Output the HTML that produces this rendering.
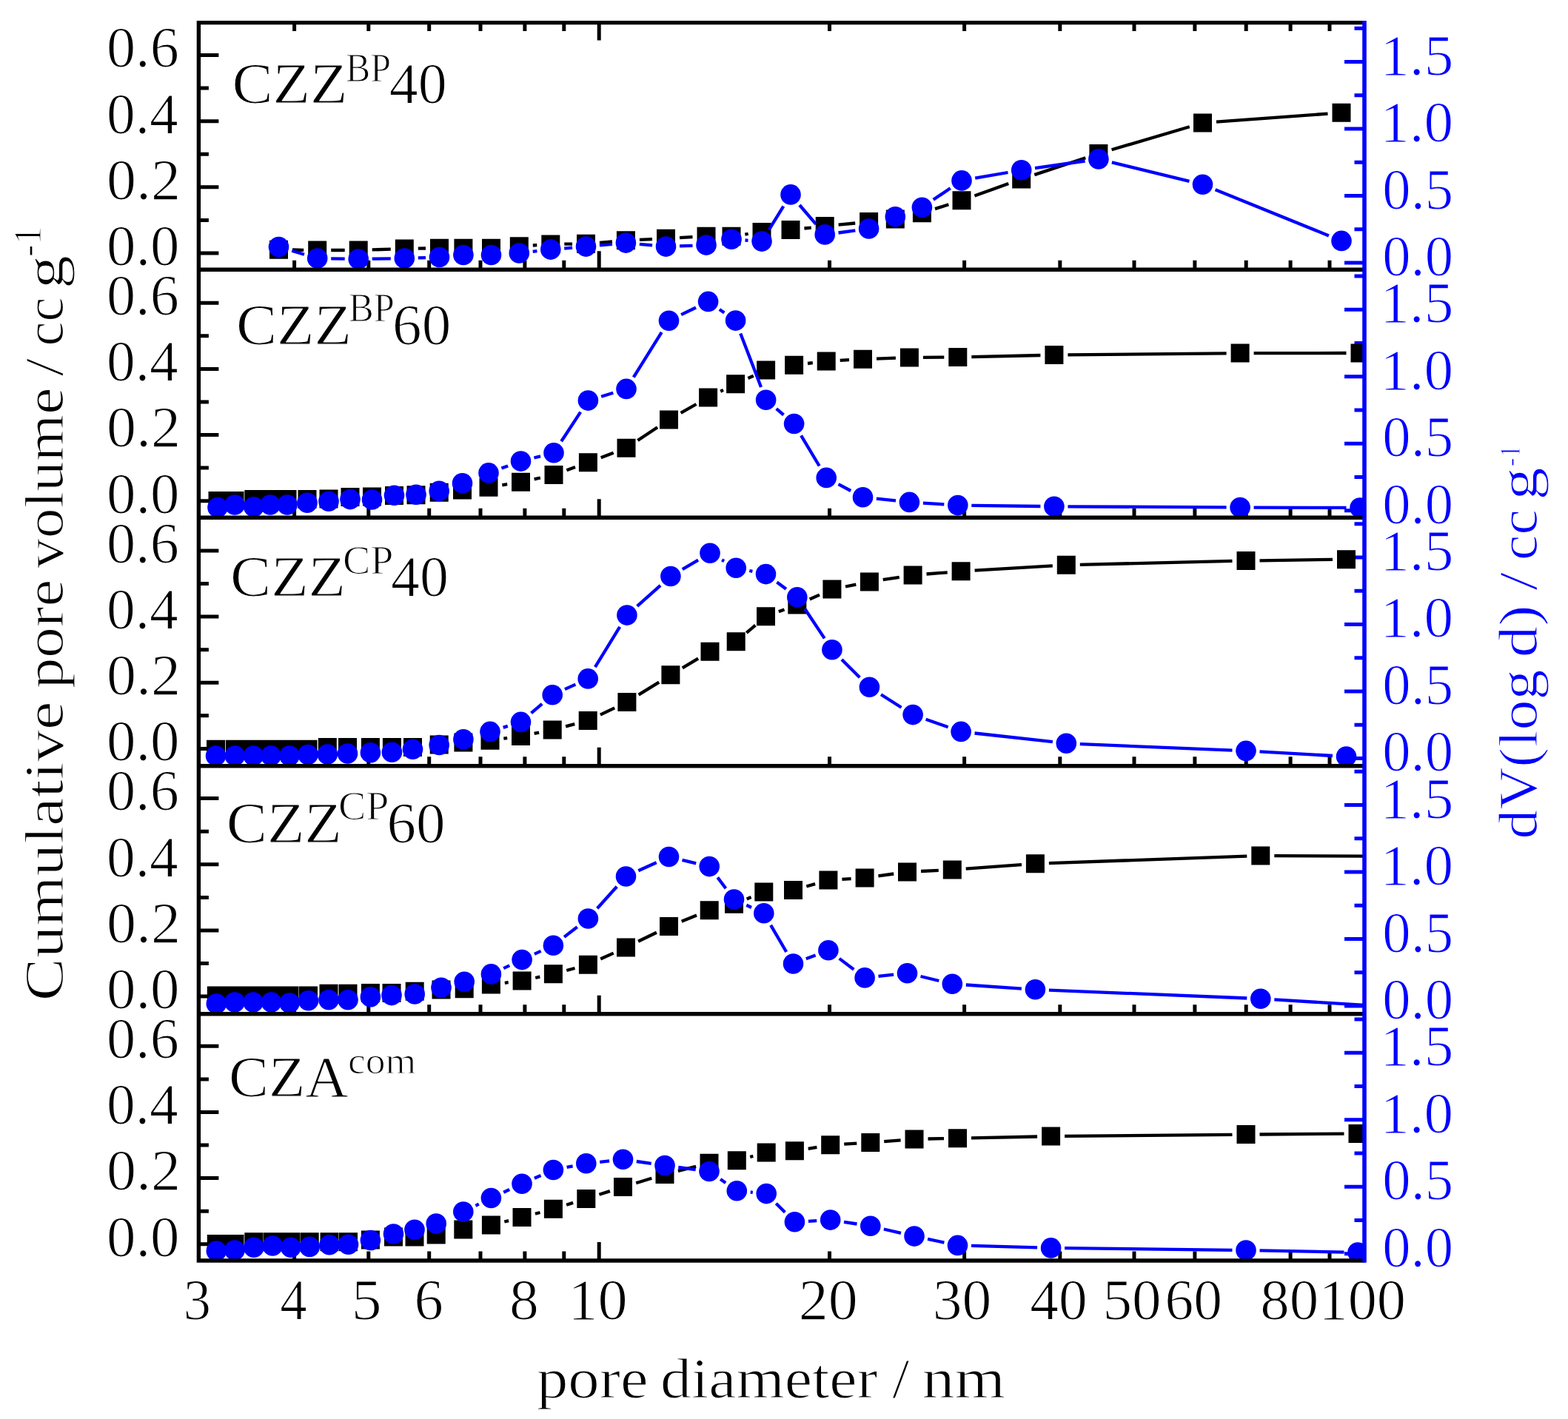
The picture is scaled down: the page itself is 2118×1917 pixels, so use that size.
<!DOCTYPE html>
<html><head><meta charset="utf-8"><title>Pore size distribution</title>
<style>html,body{margin:0;padding:0;background:#fff}svg{display:block}text{font-family:'Liberation Serif', serif;font-kerning:none;stroke:#fff;stroke-width:1.2px;stroke-linejoin:round}</style></head><body>
<svg width="2118" height="1917" viewBox="0 0 2118 1917">
<rect width="2118" height="1917" fill="#fff"/>
<defs>
<clipPath id="cp0"><rect x="268.4" y="30.6" width="1574.6" height="333.6"/></clipPath>
<clipPath id="cp1"><rect x="268.4" y="364.2" width="1574.6" height="335.1"/></clipPath>
<clipPath id="cp2"><rect x="268.4" y="699.3" width="1574.6" height="335.4"/></clipPath>
<clipPath id="cp3"><rect x="268.4" y="1034.7" width="1574.6" height="335.1"/></clipPath>
<clipPath id="cp4"><rect x="268.4" y="1369.8" width="1574.6" height="333.2"/></clipPath>
</defs>
<path d="M397.6 364.2v-12.5M497.8 364.2v-12.5M579.7 364.2v-12.5M649 364.2v-12.5M708.9 364.2v-12.5M761.8 364.2v-12.5M1120.5 364.2v-12.5M1302.6 364.2v-12.5M1431.8 364.2v-12.5M1532 364.2v-12.5M1613.9 364.2v-12.5M1683.2 364.2v-12.5M1743.1 364.2v-12.5M1796 364.2v-12.5M809.2 364.2v-25M397.6 699.3v-12.5M497.8 699.3v-12.5M579.7 699.3v-12.5M649 699.3v-12.5M708.9 699.3v-12.5M761.8 699.3v-12.5M1120.5 699.3v-12.5M1302.6 699.3v-12.5M1431.8 699.3v-12.5M1532 699.3v-12.5M1613.9 699.3v-12.5M1683.2 699.3v-12.5M1743.1 699.3v-12.5M1796 699.3v-12.5M809.2 699.3v-25M397.6 1034.7v-12.5M497.8 1034.7v-12.5M579.7 1034.7v-12.5M649 1034.7v-12.5M708.9 1034.7v-12.5M761.8 1034.7v-12.5M1120.5 1034.7v-12.5M1302.6 1034.7v-12.5M1431.8 1034.7v-12.5M1532 1034.7v-12.5M1613.9 1034.7v-12.5M1683.2 1034.7v-12.5M1743.1 1034.7v-12.5M1796 1034.7v-12.5M809.2 1034.7v-25M397.6 1369.8v-12.5M497.8 1369.8v-12.5M579.7 1369.8v-12.5M649 1369.8v-12.5M708.9 1369.8v-12.5M761.8 1369.8v-12.5M1120.5 1369.8v-12.5M1302.6 1369.8v-12.5M1431.8 1369.8v-12.5M1532 1369.8v-12.5M1613.9 1369.8v-12.5M1683.2 1369.8v-12.5M1743.1 1369.8v-12.5M1796 1369.8v-12.5M809.2 1369.8v-25M397.6 1703v-12.5M497.8 1703v-12.5M579.7 1703v-12.5M649 1703v-12.5M708.9 1703v-12.5M761.8 1703v-12.5M1120.5 1703v-12.5M1302.6 1703v-12.5M1431.8 1703v-12.5M1532 1703v-12.5M1613.9 1703v-12.5M1683.2 1703v-12.5M1743.1 1703v-12.5M1796 1703v-12.5M809.2 1703v-25M397.6 30.6v11.5M497.8 30.6v11.5M579.7 30.6v11.5M649 30.6v11.5M708.9 30.6v11.5M761.8 30.6v11.5M1120.5 30.6v11.5M1302.6 30.6v11.5M1431.8 30.6v11.5M1532 30.6v11.5M1613.9 30.6v11.5M1683.2 30.6v11.5M1743.1 30.6v11.5M1796 30.6v11.5M809.2 30.6v24M268.4 342h27M268.4 297.4h13.5M268.4 252.8h27M268.4 208.3h13.5M268.4 163.7h27M268.4 119.1h13.5M268.4 74.5h27M268.4 676.7h27M268.4 632.1h13.5M268.4 587.5h27M268.4 543h13.5M268.4 498.4h27M268.4 453.8h13.5M268.4 409.2h27M268.4 1011.4h27M268.4 966.8h13.5M268.4 922.2h27M268.4 877.7h13.5M268.4 833.1h27M268.4 788.5h13.5M268.4 743.9h27M268.4 1346.1h27M268.4 1301.5h13.5M268.4 1256.9h27M268.4 1212.4h13.5M268.4 1167.8h27M268.4 1123.2h13.5M268.4 1078.6h27M268.4 1680.8h27M268.4 1636.2h13.5M268.4 1591.6h27M268.4 1547.1h13.5M268.4 1502.5h27M268.4 1457.9h13.5M268.4 1413.3h27" stroke="#000" stroke-width="5" fill="none"/>
<path d="M1843 355h-27M1843 309.8h-13.5M1843 264.5h-27M1843 219.2h-13.5M1843 174h-27M1843 128.8h-13.5M1843 83.5h-27M1843 38.2h-13.5M1843 689.7h-27M1843 644.5h-13.5M1843 599.2h-27M1843 554h-13.5M1843 508.7h-27M1843 463.5h-13.5M1843 418.2h-27M1843 373h-13.5M1843 1024.4h-27M1843 979.2h-13.5M1843 933.9h-27M1843 888.7h-13.5M1843 843.4h-27M1843 798.2h-13.5M1843 752.9h-27M1843 707.7h-13.5M1843 1359.1h-27M1843 1313.8h-13.5M1843 1268.6h-27M1843 1223.3h-13.5M1843 1178.1h-27M1843 1132.8h-13.5M1843 1087.6h-27M1843 1042.3h-13.5M1843 1693.8h-27M1843 1648.5h-13.5M1843 1603.3h-27M1843 1558h-13.5M1843 1512.8h-27M1843 1467.5h-13.5M1843 1422.3h-27M1843 1377h-13.5" stroke="#0000ff" stroke-width="5" fill="none"/>
<g clip-path="url(#cp0)">
<path d="M395 337.5L410.2 337.8M447.2 338L465.7 338M502.7 337.4L527.8 336.6M564.8 335.7L575 335.5M719.8 331.5L725.3 331.2M762.3 329.7L773 329.6M809.9 327.8L827 326.3M863.9 323.9L881 323.1M918 321.2L935.5 320.2M1006.3 316.7L1010.7 316M1086.4 308.5L1095.8 307.6M1132.6 303.7L1155.2 301.5M1263 282.1L1281.4 276.3M1316.4 264.5L1362.3 248.1M1397.3 236.1L1466.3 213.3M1501.6 202.3L1606.8 171.2M1643 164.7L1793.5 153.6" stroke="#000" stroke-width="4.3" fill="none"/>
<path d="M364 324.8h25v25h-25zM416.2 325.5h25v25h-25zM471.7 325.5h25v25h-25zM533.8 323.5h25v25h-25zM581 322.7h25v25h-25zM613.4 322.7h25v25h-25zM651 322.7h25v25h-25zM688.8 320.2h25v25h-25zM731.3 317.5h25v25h-25zM779 316.8h25v25h-25zM832.9 312.3h25v25h-25zM887 309.7h25v25h-25zM941.5 306.7h25v25h-25zM975.5 306.7h25v25h-25zM1016.5 301h25v25h-25zM1055.5 298h25v25h-25zM1101.7 293.1h25v25h-25zM1161.1 287.1h25v25h-25zM1196.8 283.5h25v25h-25zM1232.9 275.2h25v25h-25zM1286.5 258.2h25v25h-25zM1367.2 229.4h25v25h-25zM1471.4 195h25v25h-25zM1612 153.5h25v25h-25zM1799.5 139.8h25v25h-25z" fill="#000"/>
<path d="M394.2 338.8L411 343.8M447.2 349.3L465.7 349.7M502.7 349.7L527.8 349.3M564.8 348.4L575 348.1M719.7 339.9L725.4 339.2M762.2 335.6L773.1 334.6M809.9 331.4L827 329.8M863.8 329.8L881.1 331.4M918 332.4L935.5 331.8M1006.5 324.5L1010.5 324.8M1038.7 310.4L1058.3 278.6M1080 277L1102.2 302.8M1132.5 314.5L1155.3 311.4M1260.7 269.8L1283.7 254.3M1317.2 240.7L1361.5 233M1398 227.2L1465.6 217.5M1501.9 219.3L1606.5 244.8M1641.6 256.2L1794.9 318.4" stroke="#0000ff" stroke-width="4.3" fill="none"/>
<g fill="#0000ff"><circle cx="376.5" cy="333.6" r="13.8"/><circle cx="428.7" cy="349" r="13.8"/><circle cx="484.2" cy="350" r="13.8"/><circle cx="546.3" cy="349" r="13.8"/><circle cx="593.5" cy="347.5" r="13.8"/><circle cx="625.9" cy="344.5" r="13.8"/><circle cx="663.5" cy="344.5" r="13.8"/><circle cx="701.3" cy="342" r="13.8"/><circle cx="743.8" cy="337.1" r="13.8"/><circle cx="791.5" cy="333.1" r="13.8"/><circle cx="845.4" cy="328.1" r="13.8"/><circle cx="899.5" cy="333.1" r="13.8"/><circle cx="954" cy="331.1" r="13.8"/><circle cx="988" cy="323.2" r="13.8"/><circle cx="1029" cy="326.1" r="13.8"/><circle cx="1068" cy="262.9" r="13.8"/><circle cx="1114.2" cy="316.9" r="13.8"/><circle cx="1173.6" cy="309" r="13.8"/><circle cx="1209.3" cy="292.7" r="13.8"/><circle cx="1245.4" cy="280.2" r="13.8"/><circle cx="1299" cy="243.9" r="13.8"/><circle cx="1379.7" cy="229.8" r="13.8"/><circle cx="1483.9" cy="214.9" r="13.8"/><circle cx="1624.5" cy="249.2" r="13.8"/><circle cx="1812" cy="325.4" r="13.8"/></g>
</g>
<g clip-path="url(#cp1)">
<path d="M678.3 655.3L685.2 654.2M721.6 647.4L729.9 645.5M765.4 635.3L777 631M811.7 618.2L828.7 611.7M861.4 595L888.1 577.2M919.6 557.9L940.5 546M973.2 528.7L977 526.9M1010.4 511L1017.8 507.7M1091 491L1097.8 490.2M1134.7 486.9L1147 486.2M1184 484.6L1209.9 483.6M1246.9 482.9L1275.3 482.6M1312.3 482.1L1405.4 480M1442.4 479.4L1656.6 477.3M1693.6 477.1L1818.5 477" stroke="#000" stroke-width="4.3" fill="none"/>
<path d="M281.5 664.1h25v25h-25zM304.5 664.1h25v25h-25zM330.3 662h25v25h-25zM352.5 662h25v25h-25zM375.5 662h25v25h-25zM402.5 662h25v25h-25zM431.5 661.6h25v25h-25zM460.5 659h25v25h-25zM490 658.6h25v25h-25zM520 657.1h25v25h-25zM549.5 656.2h25v25h-25zM580.7 652.7h25v25h-25zM612 649.6h25v25h-25zM647.5 645.7h25v25h-25zM691 638.8h25v25h-25zM735.5 629.1h25v25h-25zM781.9 612.2h25v25h-25zM833.5 592.7h25v25h-25zM891 554.5h25v25h-25zM944.1 524.4h25v25h-25zM981.1 506.2h25v25h-25zM1022.1 487.5h25v25h-25zM1060.1 480.8h25v25h-25zM1103.7 475.4h25v25h-25zM1153 472.7h25v25h-25zM1215.9 470.5h25v25h-25zM1281.3 470h25v25h-25zM1411.4 467.1h25v25h-25zM1662.6 464.6h25v25h-25zM1824.5 464.5h25v25h-25z" fill="#000"/>
<path d="M677.4 632.6L686.1 629.4M721.4 618.5L730.1 616.4M758.2 596.3L784.2 556.6M812.1 535.7L828.3 530.8M855.8 509.7L893.7 448.9M920.1 425.1L940 415.5M971.8 418L978.4 422.6M1000.2 450.4L1028 522.9M1048.7 552.2L1058.5 560.5M1082.1 588.4L1106.7 629.5M1132.5 654.1L1149.2 663M1183.9 673.7L1210 676.4M1246.9 679.6L1275.3 681.4M1312.3 682.8L1405.4 684M1442.4 684.3L1656.6 685.4M1693.6 685.6L1818.5 685.9" stroke="#0000ff" stroke-width="4.3" fill="none"/>
<g fill="#0000ff"><circle cx="294" cy="685.5" r="13.8"/><circle cx="317" cy="682" r="13.8"/><circle cx="342.8" cy="684.7" r="13.8"/><circle cx="365" cy="682" r="13.8"/><circle cx="388" cy="682" r="13.8"/><circle cx="415" cy="679.3" r="13.8"/><circle cx="444" cy="677.2" r="13.8"/><circle cx="473" cy="674.6" r="13.8"/><circle cx="502.5" cy="675" r="13.8"/><circle cx="532.5" cy="669.2" r="13.8"/><circle cx="562" cy="668.3" r="13.8"/><circle cx="593.2" cy="663.4" r="13.8"/><circle cx="624.5" cy="652.8" r="13.8"/><circle cx="660" cy="638.9" r="13.8"/><circle cx="703.5" cy="623.1" r="13.8"/><circle cx="748" cy="611.8" r="13.8"/><circle cx="794.4" cy="541.1" r="13.8"/><circle cx="846" cy="525.4" r="13.8"/><circle cx="903.5" cy="433.2" r="13.8"/><circle cx="956.6" cy="407.4" r="13.8"/><circle cx="993.6" cy="433.1" r="13.8"/><circle cx="1034.6" cy="540.2" r="13.8"/><circle cx="1072.6" cy="572.5" r="13.8"/><circle cx="1116.2" cy="645.4" r="13.8"/><circle cx="1165.5" cy="671.7" r="13.8"/><circle cx="1228.4" cy="678.4" r="13.8"/><circle cx="1293.8" cy="682.6" r="13.8"/><circle cx="1423.9" cy="684.2" r="13.8"/><circle cx="1675.1" cy="685.5" r="13.8"/><circle cx="1837" cy="686" r="13.8"/></g>
</g>
<g clip-path="url(#cp2)">
<path d="M680.3 997.7L685.2 997.1M721.6 990.9L728.1 989.6M764.1 981.3L776.3 978.1M810.9 965.6L830.2 956.4M862.6 938.7L890.2 921.6M921.8 902.3L943.1 889.7M1008.3 854.9L1020.4 844.7M1051.8 826.3L1059.5 823.5M1093.7 809.5L1107 803.6M1142 792.5L1156.3 789.6M1192.7 783.2L1214.8 779.8M1251.5 775.5L1279.7 773.3M1316.6 770.7L1421.8 764.4M1458.8 762.9L1664.5 757.9M1701.5 757.3L1800 755.9" stroke="#000" stroke-width="4.3" fill="none"/>
<path d="M279 999.8h25v25h-25zM304.8 999.8h25v25h-25zM329.8 999.8h25v25h-25zM353.5 999.8h25v25h-25zM378.5 999.8h25v25h-25zM403.5 999.8h25v25h-25zM429.8 997h25v25h-25zM457 997h25v25h-25zM487.9 997h25v25h-25zM516.9 997h25v25h-25zM545 997h25v25h-25zM580.7 993.5h25v25h-25zM613.4 990.6h25v25h-25zM649.5 987.7h25v25h-25zM691 982.1h25v25h-25zM733.7 973.4h25v25h-25zM781.7 961h25v25h-25zM834.4 936h25v25h-25zM893.4 899.3h25v25h-25zM946.5 867.7h25v25h-25zM981.7 854.3h25v25h-25zM1022 820.3h25v25h-25zM1064.3 804.5h25v25h-25zM1111.4 783.6h25v25h-25zM1161.9 773.5h25v25h-25zM1220.6 764.5h25v25h-25zM1285.6 759.3h25v25h-25zM1427.8 750.8h25v25h-25zM1670.5 745h25v25h-25zM1806 743.2h25v25h-25z" fill="#000"/>
<path d="M679.7 982.9L685.8 980.9M717.5 963.4L732.2 950.8M763 931.1L777.4 924.6M803.9 901.1L837.2 846.9M860.7 818.8L892.1 790.8M921.8 769.1L943.1 756.6M975.1 756.4L978.1 758.1M1012.3 771L1016.4 771.9M1049.4 786.6L1061.9 795.8M1087 822.2L1113.7 862.4M1137 890.9L1161.3 915.2M1190 938.2L1217.5 955.7M1250.6 971.7L1280.6 982.3M1316.5 990.5L1421.9 1002.2M1458.8 1005.1L1664.5 1013.6M1701.5 1015.4L1800 1021" stroke="#0000ff" stroke-width="4.3" fill="none"/>
<g fill="#0000ff"><circle cx="291.5" cy="1021" r="13.8"/><circle cx="317.3" cy="1021" r="13.8"/><circle cx="342.3" cy="1021" r="13.8"/><circle cx="366" cy="1021" r="13.8"/><circle cx="391" cy="1021" r="13.8"/><circle cx="416" cy="1019.5" r="13.8"/><circle cx="442.3" cy="1019" r="13.8"/><circle cx="469.5" cy="1018" r="13.8"/><circle cx="500.4" cy="1016.8" r="13.8"/><circle cx="529.4" cy="1016.3" r="13.8"/><circle cx="557.5" cy="1012.3" r="13.8"/><circle cx="593.2" cy="1006.5" r="13.8"/><circle cx="625.9" cy="998.8" r="13.8"/><circle cx="662" cy="988.4" r="13.8"/><circle cx="703.5" cy="975.4" r="13.8"/><circle cx="746.2" cy="938.8" r="13.8"/><circle cx="794.2" cy="916.9" r="13.8"/><circle cx="846.9" cy="831.1" r="13.8"/><circle cx="905.9" cy="778.5" r="13.8"/><circle cx="959" cy="747.2" r="13.8"/><circle cx="994.2" cy="767.3" r="13.8"/><circle cx="1034.5" cy="775.6" r="13.8"/><circle cx="1076.8" cy="806.8" r="13.8"/><circle cx="1123.9" cy="877.8" r="13.8"/><circle cx="1174.4" cy="928.3" r="13.8"/><circle cx="1233.1" cy="965.6" r="13.8"/><circle cx="1298.1" cy="988.4" r="13.8"/><circle cx="1440.3" cy="1004.3" r="13.8"/><circle cx="1683" cy="1014.4" r="13.8"/><circle cx="1818.5" cy="1022" r="13.8"/></g>
</g>
<g clip-path="url(#cp3)">
<path d="M681.8 1327.8L686.7 1327.2M723.2 1321L729.3 1319.7M765.3 1311L776.5 1308M811.2 1295.5L828.7 1287.6M862.1 1271.8L886.9 1259.7M920.7 1244.8L941 1236.6M1008.7 1214.4L1014.6 1212M1089.3 1197.5L1101.1 1194.1M1137.4 1187.9L1149.6 1187.1M1186.4 1183.4L1207.2 1180.5M1244 1177L1267.8 1175.9M1304.7 1173.6L1380 1168.1M1416.9 1166.1L1684.3 1156.6M1721.3 1156.1L1950 1157" stroke="#000" stroke-width="4.3" fill="none"/>
<path d="M279.8 1332.5h25v25h-25zM304.5 1332.5h25v25h-25zM329.5 1332.5h25v25h-25zM354 1332.5h25v25h-25zM378.5 1332.5h25v25h-25zM404 1332.5h25v25h-25zM431.5 1329.8h25v25h-25zM457.5 1329.8h25v25h-25zM487.9 1328.9h25v25h-25zM516.5 1328.9h25v25h-25zM547.7 1326.8h25v25h-25zM583.5 1324.5h25v25h-25zM614.7 1323.2h25v25h-25zM650.9 1317.6h25v25h-25zM692.6 1312.4h25v25h-25zM734.9 1303.3h25v25h-25zM781.9 1290.7h25v25h-25zM833 1267.4h25v25h-25zM891 1239.1h25v25h-25zM945.7 1217.3h25v25h-25zM979 1208.8h25v25h-25zM1019.3 1192.6h25v25h-25zM1059 1190.1h25v25h-25zM1106.4 1176.5h25v25h-25zM1155.6 1173.5h25v25h-25zM1213 1165.4h25v25h-25zM1273.8 1162.5h25v25h-25zM1385.9 1154.2h25v25h-25zM1690.3 1143.5h25v25h-25z" fill="#000"/>
<path d="M680.2 1308.1L688.3 1304.4M721.9 1288.9L730.6 1284.9M762.1 1265.9L779.7 1252.3M806.7 1227.2L833.2 1197.8M862.3 1176.3L886.7 1165.2M921.5 1161.8L940.2 1166.3M969.3 1185.4L980.4 1200.2M1008.3 1222.8L1015 1226M1041.1 1249.8L1062.2 1286M1088.8 1295.3L1101.6 1290.4M1133.7 1294.9L1153.3 1309.7M1186.5 1318.9L1207.1 1316.7M1243.5 1319L1268.3 1325M1304.8 1330.5L1379.9 1335.6M1416.9 1337.6L1684.3 1348.5M1721.3 1350.4L1950 1364.5" stroke="#0000ff" stroke-width="4.3" fill="none"/>
<g fill="#0000ff"><circle cx="292.3" cy="1356" r="13.8"/><circle cx="317" cy="1354" r="13.8"/><circle cx="342" cy="1354" r="13.8"/><circle cx="366.5" cy="1354" r="13.8"/><circle cx="391" cy="1355" r="13.8"/><circle cx="416.5" cy="1351.7" r="13.8"/><circle cx="444" cy="1350.8" r="13.8"/><circle cx="470" cy="1350.8" r="13.8"/><circle cx="500.4" cy="1346.8" r="13.8"/><circle cx="529" cy="1344.6" r="13.8"/><circle cx="560.2" cy="1343" r="13.8"/><circle cx="596" cy="1334.3" r="13.8"/><circle cx="627.2" cy="1326.3" r="13.8"/><circle cx="663.4" cy="1315.9" r="13.8"/><circle cx="705.1" cy="1296.6" r="13.8"/><circle cx="747.4" cy="1277.2" r="13.8"/><circle cx="794.4" cy="1241" r="13.8"/><circle cx="845.5" cy="1184" r="13.8"/><circle cx="903.5" cy="1157.5" r="13.8"/><circle cx="958.2" cy="1170.6" r="13.8"/><circle cx="991.5" cy="1215" r="13.8"/><circle cx="1031.8" cy="1233.8" r="13.8"/><circle cx="1071.5" cy="1302" r="13.8"/><circle cx="1118.9" cy="1283.7" r="13.8"/><circle cx="1168.1" cy="1320.9" r="13.8"/><circle cx="1225.5" cy="1314.7" r="13.8"/><circle cx="1286.3" cy="1329.3" r="13.8"/><circle cx="1398.4" cy="1336.8" r="13.8"/><circle cx="1702.8" cy="1349.3" r="13.8"/></g>
</g>
<g clip-path="url(#cp4)">
<path d="M681.3 1650.5L687.1 1649.1M722.9 1639.8L729.5 1638M765.1 1627.8L774.1 1624.9M809.4 1613.8L823.9 1609.1M859.2 1598.2L880.3 1591.8M915.9 1581.9L940.1 1575.8M1013.2 1563L1017.3 1561.9M1091.7 1551.8L1103.4 1549.8M1140.2 1545.7L1157.3 1544.7M1194.2 1542.1L1216.6 1540.4M1253.5 1538.5L1275 1538.1M1312 1537.3L1401.1 1535.5M1438.1 1534.9L1664.5 1532.8M1701.5 1532.5L1815.5 1531.6" stroke="#000" stroke-width="4.3" fill="none"/>
<path d="M279.8 1667.9h25v25h-25zM304.5 1667.9h25v25h-25zM330.3 1665.2h25v25h-25zM355.7 1665.2h25v25h-25zM380.3 1665.2h25v25h-25zM405.7 1665.2h25v25h-25zM432.5 1665.2h25v25h-25zM458 1665.2h25v25h-25zM487.9 1662.5h25v25h-25zM519 1658.6h25v25h-25zM547.5 1658.6h25v25h-25zM576.7 1655.4h25v25h-25zM613.3 1648.5h25v25h-25zM650.9 1642.6h25v25h-25zM692.5 1632h25v25h-25zM734.9 1620.8h25v25h-25zM779.3 1606.9h25v25h-25zM829 1591h25v25h-25zM885.5 1574h25v25h-25zM945.5 1558.7h25v25h-25zM982.8 1555.3h25v25h-25zM1022.7 1544.6h25v25h-25zM1060.9 1542.3h25v25h-25zM1109.2 1534.3h25v25h-25zM1163.3 1531.1h25v25h-25zM1222.5 1526.4h25v25h-25zM1281 1525.2h25v25h-25zM1407.1 1522.6h25v25h-25zM1670.5 1520.1h25v25h-25zM1821.5 1519h25v25h-25z" fill="#000"/>
<path d="M642.4 1628.9L646.8 1626.7M680.2 1610.7L688.2 1607M721.9 1591.7L730.5 1588M765.6 1576.9L773.6 1575.4M810.2 1569.8L823.1 1568.3M859.8 1569L879.7 1571.9M916.3 1577L939.7 1580.1M973.1 1593.1L980.2 1598.1M1013.7 1610.5L1016.8 1610.8M1048.3 1625.7L1060.3 1637.7M1091.9 1649.8L1103.2 1649.1M1140 1650.9L1157.5 1653.5M1193.8 1660.5L1217 1665.9M1253.1 1673.9L1275.4 1678.6M1312 1682.9L1401.1 1685.4M1438.1 1686.1L1664.5 1688.8M1701.5 1689.4L1815.5 1691.6" stroke="#0000ff" stroke-width="4.3" fill="none"/>
<g fill="#0000ff"><circle cx="292.3" cy="1690" r="13.8"/><circle cx="317" cy="1689" r="13.8"/><circle cx="342.8" cy="1685.3" r="13.8"/><circle cx="368.2" cy="1683" r="13.8"/><circle cx="392.8" cy="1685.3" r="13.8"/><circle cx="418.2" cy="1684.4" r="13.8"/><circle cx="445" cy="1681.7" r="13.8"/><circle cx="470.5" cy="1681.3" r="13.8"/><circle cx="500.4" cy="1675.5" r="13.8"/><circle cx="531.5" cy="1667" r="13.8"/><circle cx="560" cy="1661.2" r="13.8"/><circle cx="589.2" cy="1653.1" r="13.8"/><circle cx="625.8" cy="1637.1" r="13.8"/><circle cx="663.4" cy="1618.5" r="13.8"/><circle cx="705" cy="1599.2" r="13.8"/><circle cx="747.4" cy="1580.5" r="13.8"/><circle cx="791.8" cy="1571.8" r="13.8"/><circle cx="841.5" cy="1566.3" r="13.8"/><circle cx="898" cy="1574.6" r="13.8"/><circle cx="958" cy="1582.5" r="13.8"/><circle cx="995.3" cy="1608.7" r="13.8"/><circle cx="1035.2" cy="1612.6" r="13.8"/><circle cx="1073.4" cy="1650.8" r="13.8"/><circle cx="1121.7" cy="1648.1" r="13.8"/><circle cx="1175.8" cy="1656.3" r="13.8"/><circle cx="1235" cy="1670.1" r="13.8"/><circle cx="1293.5" cy="1682.4" r="13.8"/><circle cx="1419.6" cy="1685.9" r="13.8"/><circle cx="1683" cy="1689" r="13.8"/><circle cx="1834" cy="1692" r="13.8"/></g>
</g>
<path d="M265.7 30.6H1843M265.7 364.2H1843M265.7 699.3H1843M265.7 1034.7H1843M265.7 1369.8H1843M265.7 1703H1843M268.4 27.9V1705.7" stroke="#000" stroke-width="5.4" fill="none"/>
<path d="M1843 27.9V1705.7" stroke="#0000ff" stroke-width="5.6" fill="none"/>
<g font-size="78" fill="#000"><text x="144" y="357.8" textLength="98.5" lengthAdjust="spacingAndGlyphs">0.0</text><text x="144" y="268.6" textLength="100" lengthAdjust="spacingAndGlyphs">0.2</text><text x="144.1" y="179.5" textLength="96.7" lengthAdjust="spacingAndGlyphs">0.4</text><text x="144" y="90.3" textLength="97.8" lengthAdjust="spacingAndGlyphs">0.6</text><text x="144" y="692.5" textLength="98.5" lengthAdjust="spacingAndGlyphs">0.0</text><text x="144" y="603.3" textLength="100" lengthAdjust="spacingAndGlyphs">0.2</text><text x="144.1" y="514.2" textLength="96.7" lengthAdjust="spacingAndGlyphs">0.4</text><text x="144" y="425" textLength="97.8" lengthAdjust="spacingAndGlyphs">0.6</text><text x="144" y="1027.2" textLength="98.5" lengthAdjust="spacingAndGlyphs">0.0</text><text x="144" y="938" textLength="100" lengthAdjust="spacingAndGlyphs">0.2</text><text x="144.1" y="848.9" textLength="96.7" lengthAdjust="spacingAndGlyphs">0.4</text><text x="144" y="759.7" textLength="97.8" lengthAdjust="spacingAndGlyphs">0.6</text><text x="144" y="1361.9" textLength="98.5" lengthAdjust="spacingAndGlyphs">0.0</text><text x="144" y="1272.7" textLength="100" lengthAdjust="spacingAndGlyphs">0.2</text><text x="144.1" y="1183.6" textLength="96.7" lengthAdjust="spacingAndGlyphs">0.4</text><text x="144" y="1094.4" textLength="97.8" lengthAdjust="spacingAndGlyphs">0.6</text><text x="144" y="1696.6" textLength="98.5" lengthAdjust="spacingAndGlyphs">0.0</text><text x="144" y="1607.4" textLength="100" lengthAdjust="spacingAndGlyphs">0.2</text><text x="144.1" y="1518.3" textLength="96.7" lengthAdjust="spacingAndGlyphs">0.4</text><text x="144" y="1429.1" textLength="97.8" lengthAdjust="spacingAndGlyphs">0.6</text></g>
<g font-size="78" fill="#0000ff"><text x="1867.3" y="372" textLength="95.8" lengthAdjust="spacingAndGlyphs">0.0</text><text x="1867.3" y="281.5" textLength="95.9" lengthAdjust="spacingAndGlyphs">0.5</text><text x="1864.2" y="191" textLength="99" lengthAdjust="spacingAndGlyphs">1.0</text><text x="1864.2" y="100.5" textLength="99.1" lengthAdjust="spacingAndGlyphs">1.5</text><text x="1867.3" y="706.7" textLength="95.8" lengthAdjust="spacingAndGlyphs">0.0</text><text x="1867.3" y="616.2" textLength="95.9" lengthAdjust="spacingAndGlyphs">0.5</text><text x="1864.2" y="525.7" textLength="99" lengthAdjust="spacingAndGlyphs">1.0</text><text x="1864.2" y="435.2" textLength="99.1" lengthAdjust="spacingAndGlyphs">1.5</text><text x="1867.3" y="1041.4" textLength="95.8" lengthAdjust="spacingAndGlyphs">0.0</text><text x="1867.3" y="950.9" textLength="95.9" lengthAdjust="spacingAndGlyphs">0.5</text><text x="1864.2" y="860.4" textLength="99" lengthAdjust="spacingAndGlyphs">1.0</text><text x="1864.2" y="769.9" textLength="99.1" lengthAdjust="spacingAndGlyphs">1.5</text><text x="1867.3" y="1376.1" textLength="95.8" lengthAdjust="spacingAndGlyphs">0.0</text><text x="1867.3" y="1285.6" textLength="95.9" lengthAdjust="spacingAndGlyphs">0.5</text><text x="1864.2" y="1195.1" textLength="99" lengthAdjust="spacingAndGlyphs">1.0</text><text x="1864.2" y="1104.6" textLength="99.1" lengthAdjust="spacingAndGlyphs">1.5</text><text x="1867.3" y="1710.8" textLength="95.8" lengthAdjust="spacingAndGlyphs">0.0</text><text x="1867.3" y="1620.3" textLength="95.9" lengthAdjust="spacingAndGlyphs">0.5</text><text x="1864.2" y="1529.8" textLength="99" lengthAdjust="spacingAndGlyphs">1.0</text><text x="1864.2" y="1439.3" textLength="99.1" lengthAdjust="spacingAndGlyphs">1.5</text></g>
<g font-size="79" fill="#000"><text x="247.8" y="1782.3" textLength="37.2" lengthAdjust="spacingAndGlyphs">3</text><text x="378.3" y="1782.3" textLength="36.4" lengthAdjust="spacingAndGlyphs">4</text><text x="474.7" y="1782.3" textLength="40.8" lengthAdjust="spacingAndGlyphs">5</text><text x="559.4" y="1782.3" textLength="39.4" lengthAdjust="spacingAndGlyphs">6</text><text x="687.9" y="1782.3" textLength="39.8" lengthAdjust="spacingAndGlyphs">8</text><text x="767.2" y="1782.3" textLength="80.4" lengthAdjust="spacingAndGlyphs">10</text><text x="1078.8" y="1782.3" textLength="79.9" lengthAdjust="spacingAndGlyphs">20</text><text x="1259.8" y="1782.3" textLength="79.6" lengthAdjust="spacingAndGlyphs">30</text><text x="1391.2" y="1782.3" textLength="77.4" lengthAdjust="spacingAndGlyphs">40</text><text x="1489.4" y="1782.3" textLength="79.2" lengthAdjust="spacingAndGlyphs">50</text><text x="1573.6" y="1782.3" textLength="77.5" lengthAdjust="spacingAndGlyphs">60</text><text x="1702.2" y="1782.3" textLength="78.9" lengthAdjust="spacingAndGlyphs">80</text><text x="1781.5" y="1782.3" textLength="117.5" lengthAdjust="spacingAndGlyphs">100</text></g>
<text x="313.5" y="139.4" font-size="79" textLength="155.9" lengthAdjust="spacingAndGlyphs">CZZ</text><text x="467" y="110" font-size="54" textLength="61" lengthAdjust="spacingAndGlyphs">BP</text><text x="525.7" y="139.4" font-size="79" textLength="77.9" lengthAdjust="spacingAndGlyphs">40</text>
<text x="319" y="464.8" font-size="79" textLength="155.9" lengthAdjust="spacingAndGlyphs">CZZ</text><text x="470.9" y="434.4" font-size="54" textLength="61.9" lengthAdjust="spacingAndGlyphs">BP</text><text x="530.1" y="464.8" font-size="79" textLength="79.1" lengthAdjust="spacingAndGlyphs">60</text>
<text x="311.1" y="804.6" font-size="79" textLength="155.9" lengthAdjust="spacingAndGlyphs">CZZ</text><text x="463" y="774.5" font-size="54" textLength="68.4" lengthAdjust="spacingAndGlyphs">CP</text><text x="528.1" y="804.6" font-size="79" textLength="77.9" lengthAdjust="spacingAndGlyphs">40</text>
<text x="305.8" y="1137.8" font-size="79" textLength="156" lengthAdjust="spacingAndGlyphs">CZZ</text><text x="456.9" y="1107.2" font-size="54" textLength="68.4" lengthAdjust="spacingAndGlyphs">CP</text><text x="522.5" y="1137.8" font-size="79" textLength="79" lengthAdjust="spacingAndGlyphs">60</text>
<text x="309.1" y="1481.3" font-size="79" textLength="161.5" lengthAdjust="spacingAndGlyphs">CZA</text><text x="469.9" y="1450.3" font-size="50" textLength="92.2" lengthAdjust="spacingAndGlyphs">com</text>
<text x="725" y="1888.4" font-size="77" textLength="150.5" lengthAdjust="spacingAndGlyphs">pore</text><text x="892" y="1888.4" font-size="77" textLength="293.4" lengthAdjust="spacingAndGlyphs">diameter</text><text x="1205.3" y="1888.4" font-size="77" textLength="23.1" lengthAdjust="spacingAndGlyphs">/</text><text x="1245.4" y="1888.4" font-size="77" textLength="112.6" lengthAdjust="spacingAndGlyphs">nm</text>
<g transform="translate(85 1400) rotate(-90)" fill="#000"><text x="47.8" y="0" font-size="73" textLength="404.8" lengthAdjust="spacingAndGlyphs">Cumulative</text><text x="469.7" y="0" font-size="73" textLength="147.8" lengthAdjust="spacingAndGlyphs">pore</text><text x="632" y="0" font-size="73" textLength="244.4" lengthAdjust="spacingAndGlyphs">volume</text><text x="891.4" y="0" font-size="73" textLength="24.8" lengthAdjust="spacingAndGlyphs">/</text><text x="932.5" y="0" font-size="73" textLength="65.8" lengthAdjust="spacingAndGlyphs">cc</text><text x="1009.7" y="0" font-size="73" textLength="45.3" lengthAdjust="spacingAndGlyphs">g</text><text x="1053.1" y="-30" font-size="52" textLength="41.2" lengthAdjust="spacingAndGlyphs">-1</text></g>
<g transform="translate(2075.5 1200) rotate(-90)" fill="#0000ff"><text x="66.5" y="0" font-size="75" textLength="123.3" lengthAdjust="spacingAndGlyphs">dV(</text><text x="190.8" y="0" font-size="75" textLength="104.6" lengthAdjust="spacingAndGlyphs">log</text><text x="311.8" y="0" font-size="75" textLength="70.9" lengthAdjust="spacingAndGlyphs">d)</text><text x="402.3" y="0" font-size="75" textLength="25" lengthAdjust="spacingAndGlyphs">/</text><text x="443.1" y="0" font-size="75" textLength="68.6" lengthAdjust="spacingAndGlyphs">cc</text><text x="524.3" y="0" font-size="75" textLength="44.3" lengthAdjust="spacingAndGlyphs">g</text><text x="569.7" y="-22.5" font-size="40" textLength="29.2" lengthAdjust="spacingAndGlyphs">-1</text></g>
</svg>
</body></html>
